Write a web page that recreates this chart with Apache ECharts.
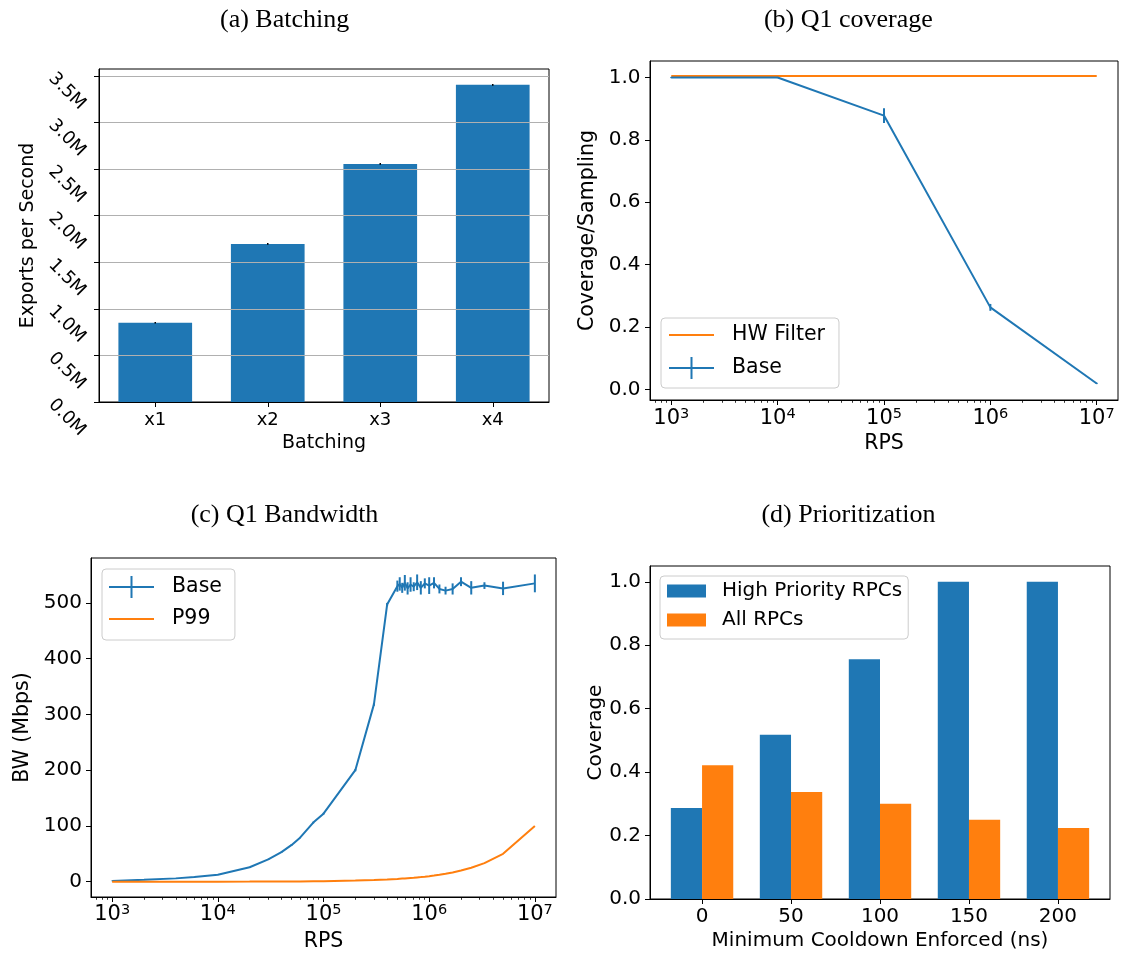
<!DOCTYPE html>
<html>
<head>
<meta charset="utf-8">
<script src="https://cdn.jsdelivr.net/npm/echarts@6/dist/echarts.min.js"></script>
<style>
html,body{margin:0;padding:0;background:#fff;}
#c{width:1126px;height:956px;}
</style>
</head>
<body>
<div id="c"></div>
<script>
// ---------- (a) Batching ----------
const batchCats = ['x1', 'x2', 'x3', 'x4'];
const batchVals = [850000, 1696000, 2555000, 3403000];
const batchErr = [9000, 9000, 10000, 10000];
const batchTicks = [0, 500000, 1000000, 1500000, 2000000, 2500000, 3000000, 3500000];

// ---------- (b) Q1 coverage ----------
const covRps = [1000, 10000, 100000, 1000000, 10000000];
const covHw = [1.005, 1.005, 1.005, 1.005, 1.005];
const covBase = [1.0, 1.0, 0.878, 0.263, 0.019];
const covErr = [0.002, 0.002, 0.0235, 0.011, 0.002];
const covTicks = [0, 0.2, 0.4, 0.6, 0.8, 1.0];

// ---------- (c) Q1 Bandwidth ----------
const bwRps = [1000, 2000, 4000, 6000, 10000, 20000, 30000, 40000, 50000, 60000,
  80000, 100000, 200000, 300000, 400000, 500000, 526316, 555556, 588235, 625000,
  666667, 714286, 769231, 833333, 909091, 1000000, 1111111, 1250000, 1428571, 1666667,
  2000000, 2500000, 3333333, 5000000, 10000000];
const bwBase = [1.5, 3.5, 6, 8.5, 12.5, 26, 40, 53, 66, 79,
  106, 122, 200, 318, 497, 530, 534, 527, 536, 526,
  533, 529, 537, 527, 535, 531, 536, 525, 522, 525,
  538, 527, 531, 526, 535];
const bwErr = [0.5, 0.5, 0.5, 0.5, 0.5, 0.8, 1, 1, 1, 1,
  1.5, 1.5, 2, 2.5, 3, 10, 12, 9, 14, 11,
  13, 8, 14, 12, 9, 15, 10, 8, 7, 10,
  8, 12, 6, 12, 16];
const bwP99 = [0.01, 0.02, 0.04, 0.06, 0.1, 0.2, 0.3, 0.4, 0.5, 0.6,
  0.8, 1, 2, 3, 4, 5, 5.3, 5.6, 5.9, 6.3,
  6.7, 7.1, 7.7, 8.3, 9.1, 10, 11.1, 12.5, 14.3, 16.7,
  20, 25, 33.3, 50, 100];
const bwTicks = [0, 100, 200, 300, 400, 500];
const rpsTicks = [1000, 10000, 100000, 1000000, 10000000];

// ---------- (d) Prioritization ----------
const prioCats = ['0', '50', '100', '150', '200'];
const prioPos = [0, 1, 2, 3, 4];
const prioHigh = [0.287, 0.518, 0.756, 1.0, 1.0];
const prioAll = [0.422, 0.337, 0.300, 0.250, 0.224];
const prioTicks = [0, 0.2, 0.4, 0.6, 0.8, 1.0];

// ---------- styling ----------
const FONT = 'DejaVu Sans';
const SERIF = 'Liberation Serif';
const BLUE = '#1f77b4';
const ORANGE = '#ff7f0e';
const LINE_ICON = 'path://M0,0h0.01v0.01h-0.01z M0,10h45v2h-45z M44.99,21.99h0.01v0.01h-0.01z';
const ERR_ICON = 'path://M0,10h45v2h-45z M21.5,0h2v22h-2z';

function errRender(color, width) {
  return function (params, api) {
    const x = api.value(0), y = api.value(1), e = api.value(2);
    const p1 = api.coord([x, y - e]);
    const p2 = api.coord([x, y + e]);
    return {
      type: 'line',
      shape: { x1: p1[0], y1: p1[1], x2: p2[0], y2: p2[1] },
      style: { stroke: color, lineWidth: width }
    };
  };
}

const supFmt = v => '{b|10}{s|' + Math.round(Math.log10(v)) + '}';
const supRich = {
  b: { fontFamily: FONT, fontSize: 21, lineHeight: 24, color: '#000' },
  s: { fontFamily: FONT, fontSize: 14.5, lineHeight: 14, verticalAlign: 'top', color: '#000' }
};

const lineAx = { show: true, onZero: false, lineStyle: { color: '#000', width: 1 } };
const tickAx = (vals) => ({ show: true, length: 5, lineStyle: { color: '#000', width: 1 }, customValues: vals });
const nameStyle = (fs) => ({ color: '#000', fontFamily: FONT, fontSize: fs });
const gridBase = { show: true, borderColor: '#000', borderWidth: 1, backgroundColor: 'transparent', containLabel: false, outerBoundsMode: 'none' };
const titleStyle = { fontFamily: SERIF, fontSize: 26, fontWeight: 'normal', color: '#000' };

const option = {
  animation: false,
  backgroundColor: '#fff',
  textStyle: { fontFamily: FONT },
  title: [
    { text: '(a) Batching', left: 284.6, top: 7, padding: 0, textAlign: 'center', textStyle: titleStyle },
    { text: '(b) Q1 coverage', left: 848.4, top: 7, padding: 0, textAlign: 'center', textStyle: titleStyle },
    { text: '(c) Q1 Bandwidth', left: 284.5, top: 502, padding: 0, textAlign: 'center', textStyle: titleStyle },
    { text: '(d) Prioritization', left: 848.4, top: 502, padding: 0, textAlign: 'center', textStyle: titleStyle }
  ],
  grid: [
    Object.assign({ left: 99, top: 69, width: 450, height: 333 }, gridBase),
    Object.assign({ left: 650, top: 61, width: 468, height: 339 }, gridBase),
    Object.assign({ left: 91, top: 558, width: 465, height: 339 }, gridBase),
    Object.assign({ left: 650, top: 566, width: 460, height: 333 }, gridBase)
  ],
  legend: [
    {
      orient: 'vertical', left: 661, top: 318, padding: [6, 14, 9, 8], itemGap: 11,
      itemWidth: 45, itemHeight: 22, symbolKeepAspect: false, selectedMode: false,
      backgroundColor: 'rgba(255,255,255,0.8)', borderColor: '#cccccc', borderWidth: 1, borderRadius: 4,
      itemStyle: { borderWidth: 0 },
      textStyle: { fontFamily: FONT, fontSize: 20.5, color: '#000', padding: [0, 0, 0, 13] },
      data: [{ name: 'HW Filter', icon: LINE_ICON }, { name: 'Base', icon: ERR_ICON }]
    },
    {
      orient: 'vertical', left: 102, top: 569, padding: [7, 13, 10, 7], itemGap: 10,
      itemWidth: 45, itemHeight: 22, symbolKeepAspect: false, selectedMode: false,
      backgroundColor: 'rgba(255,255,255,0.8)', borderColor: '#cccccc', borderWidth: 1, borderRadius: 4,
      itemStyle: { borderWidth: 0 },
      textStyle: { fontFamily: FONT, fontSize: 20.5, color: '#000', padding: [0, 0, 0, 13] },
      data: [{ name: 'Base', icon: ERR_ICON }, { name: 'P99', icon: LINE_ICON }]
    },
    {
      orient: 'vertical', left: 660, top: 576, padding: [5, 6, 9, 7], itemGap: 9,
      itemWidth: 39, itemHeight: 13, selectedMode: false,
      backgroundColor: 'rgba(255,255,255,0.8)', borderColor: '#cccccc', borderWidth: 1, borderRadius: 4,
      itemStyle: { borderWidth: 0 },
      textStyle: { fontFamily: FONT, fontSize: 20, color: '#000', padding: [0, 0, 0, 11] },
      data: [{ name: 'High Priority RPCs', icon: 'rect' }, { name: 'All RPCs', icon: 'rect' }]
    }
  ],
  xAxis: [
    {
      gridIndex: 0, type: 'category', data: batchCats, z: 3,
      axisLine: lineAx,
      axisTick: { show: true, length: 5, alignWithLabel: true, lineStyle: { color: '#000', width: 1 } },
      axisLabel: { color: '#000', fontFamily: FONT, fontSize: 18, margin: 9 },
      splitLine: { show: false },
      name: 'Batching', nameLocation: 'middle', nameGap: 32, nameMoveOverlap: false, nameTextStyle: nameStyle(19)
    },
    {
      gridIndex: 1, type: 'log', logBase: 10, min: 630.957, max: 15848931.9,
      axisLine: lineAx, axisTick: tickAx(rpsTicks),
      minorTick: { show: true, splitNumber: 9, length: 2.8, lineStyle: { color: '#000', width: 0.8 } },
      axisLabel: { customValues: rpsTicks, formatter: supFmt, rich: supRich, margin: 7 },
      splitLine: { show: false }, minorSplitLine: { show: false },
      name: 'RPS', nameLocation: 'middle', nameGap: 33.5, nameMoveOverlap: false, nameTextStyle: nameStyle(20.5)
    },
    {
      gridIndex: 2, type: 'log', logBase: 10, min: 630.957, max: 15848931.9,
      axisLine: lineAx, axisTick: tickAx(rpsTicks),
      minorTick: { show: true, splitNumber: 9, length: 2.8, lineStyle: { color: '#000', width: 0.8 } },
      axisLabel: { customValues: rpsTicks, formatter: supFmt, rich: supRich, margin: 6 },
      splitLine: { show: false }, minorSplitLine: { show: false },
      name: 'RPS', nameLocation: 'middle', nameGap: 34.5, nameMoveOverlap: false, nameTextStyle: nameStyle(20.5)
    },
    {
      gridIndex: 3, type: 'value', min: -0.585, max: 4.585,
      axisLine: lineAx, axisTick: tickAx(prioPos),
      axisLabel: { customValues: prioPos, formatter: v => prioCats[Math.round(v)], color: '#000', fontFamily: FONT, fontSize: 20, margin: 8 },
      splitLine: { show: false },
      name: 'Minimum Cooldown Enforced (ns)', nameLocation: 'middle', nameGap: 32, nameMoveOverlap: false, nameTextStyle: nameStyle(20)
    }
  ],
  yAxis: [
    {
      gridIndex: 0, type: 'value', min: 0, max: 3573000, z: 3,
      axisLine: lineAx, axisTick: tickAx(batchTicks),
      axisLabel: {
        customValues: batchTicks, formatter: v => (v / 1e6).toFixed(1) + 'M',
        rotate: -45, align: 'left', verticalAlign: 'middle', margin: 47.6,
        color: '#000', fontFamily: FONT, fontSize: 18
      },
      splitLine: { show: true, lineStyle: { color: '#b0b0b0', width: 1 } },
      name: 'Exports per Second', nameLocation: 'middle', nameGap: 61.5, nameMoveOverlap: false, nameTextStyle: nameStyle(19)
    },
    {
      gridIndex: 1, type: 'value', min: -0.034, max: 1.053,
      axisLine: lineAx, axisTick: tickAx(covTicks),
      axisLabel: { customValues: covTicks, formatter: v => v.toFixed(1), color: '#000', fontFamily: FONT, fontSize: 20, margin: 9.5 },
      splitLine: { show: false },
      name: 'Coverage/Sampling', nameLocation: 'middle', nameGap: 51.5, nameMoveOverlap: false, nameTextStyle: nameStyle(20.5)
    },
    {
      gridIndex: 2, type: 'value', min: -27.4, max: 580.5,
      axisLine: lineAx, axisTick: tickAx(bwTicks),
      axisLabel: { customValues: bwTicks, formatter: v => String(v), color: '#000', fontFamily: FONT, fontSize: 20, margin: 9 },
      splitLine: { show: false },
      name: 'BW (Mbps)', nameLocation: 'middle', nameGap: 57.5, nameMoveOverlap: false, nameTextStyle: nameStyle(20.5)
    },
    {
      gridIndex: 3, type: 'value', min: 0, max: 1.05,
      axisLine: lineAx, axisTick: tickAx(prioTicks),
      axisLabel: { customValues: prioTicks, formatter: v => v.toFixed(1), color: '#000', fontFamily: FONT, fontSize: 20, margin: 9 },
      splitLine: { show: false },
      name: 'Coverage', nameLocation: 'middle', nameGap: 44, nameMoveOverlap: false, nameTextStyle: nameStyle(20)
    }
  ],
  series: [
    {
      name: 'Exports', type: 'bar', xAxisIndex: 0, yAxisIndex: 0, barWidth: '65.5%',
      itemStyle: { color: BLUE }, data: batchVals
    },
    {
      name: 'Exports err', type: 'custom', xAxisIndex: 0, yAxisIndex: 0, z: 4,
      renderItem: errRender('#000', 1.5), encode: { x: 0, y: 1 },
      data: batchCats.map((c, i) => [i, batchVals[i], batchErr[i]])
    },
    {
      name: 'HW Filter', type: 'line', xAxisIndex: 1, yAxisIndex: 1, symbol: 'none', showSymbol: false,
      lineStyle: { color: ORANGE, width: 2 }, itemStyle: { color: ORANGE },
      data: covRps.map((x, i) => [x, covHw[i]])
    },
    {
      name: 'Base', type: 'line', xAxisIndex: 1, yAxisIndex: 1, symbol: 'none', showSymbol: false,
      lineStyle: { color: BLUE, width: 2 }, itemStyle: { color: BLUE },
      data: covRps.map((x, i) => [x, covBase[i]])
    },
    {
      name: 'Base err b', type: 'custom', xAxisIndex: 1, yAxisIndex: 1,
      renderItem: errRender(BLUE, 2), encode: { x: 0, y: 1 },
      data: covRps.map((x, i) => [x, covBase[i], covErr[i]])
    },
    {
      name: 'Base', type: 'line', xAxisIndex: 2, yAxisIndex: 2, symbol: 'none', showSymbol: false,
      lineStyle: { color: BLUE, width: 2 }, itemStyle: { color: BLUE },
      data: bwRps.map((x, i) => [x, bwBase[i]])
    },
    {
      name: 'Base err c', type: 'custom', xAxisIndex: 2, yAxisIndex: 2,
      renderItem: errRender(BLUE, 2), encode: { x: 0, y: 1 },
      data: bwRps.map((x, i) => [x, bwBase[i], bwErr[i]])
    },
    {
      name: 'P99', type: 'line', xAxisIndex: 2, yAxisIndex: 2, symbol: 'none', showSymbol: false,
      lineStyle: { color: ORANGE, width: 2 }, itemStyle: { color: ORANGE },
      data: bwRps.map((x, i) => [x, bwP99[i]])
    },
    {
      name: 'High Priority RPCs', type: 'bar', xAxisIndex: 3, yAxisIndex: 3, barWidth: 31.2, barGap: '0%',
      itemStyle: { color: BLUE }, data: prioPos.map((x, i) => [x, prioHigh[i]])
    },
    {
      name: 'All RPCs', type: 'bar', xAxisIndex: 3, yAxisIndex: 3, barWidth: 31.2, barGap: '0%',
      itemStyle: { color: ORANGE }, data: prioPos.map((x, i) => [x, prioAll[i]])
    }
  ]
};

const chart = echarts.init(document.getElementById('c'), null, { renderer: 'canvas' });
chart.setOption(option);
</script>
</body>
</html>
